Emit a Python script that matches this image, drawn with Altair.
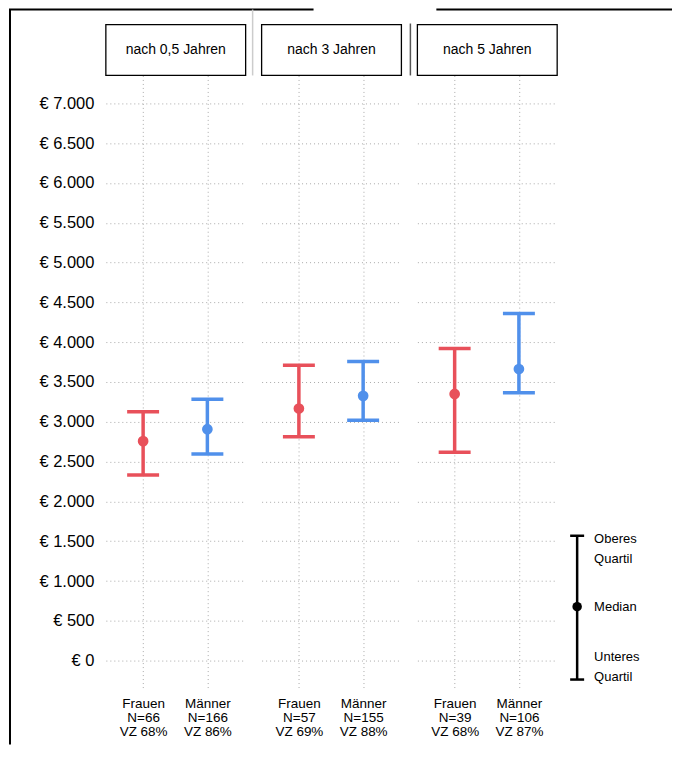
import altair as alt
import pandas as pd

periods = ["nach 0,5 Jahren", "nach 3 Jahren", "nach 5 Jahren"]
groups = ["Frauen", "Männer"]
n_values = [66, 166, 57, 155, 39, 106]
vz_values = [68, 86, 69, 88, 68, 87]
q1_values = [2332, 2595, 2812, 3020, 2619, 3366]
median_values = [2757, 2907, 3167, 3326, 3350, 3663]
q3_values = [3125, 3283, 3709, 3756, 3921, 4360]
y_ticks = list(range(0, 7001, 500))
colors = ["#E8505A", "#5090EB"]

rows = []
i = 0
for p in periods:
    for g in groups:
        rows.append({
            "period": p,
            "group": g,
            "label": f"{g}\nN={n_values[i]}\nVZ {vz_values[i]}%",
            "q1": q1_values[i],
            "median": median_values[i],
            "q3": q3_values[i],
        })
        i += 1
df = pd.DataFrame(rows)

FONT = "Liberation Sans"
W, H = 139, 614
ydom = [-350, 7350]


def panel(idx):
    p = periods[idx]
    d = df[df["period"] == p]
    first = idx == 0
    xenc = alt.X(
        "label:N",
        sort=list(d["label"]),
        scale=alt.Scale(type="point", padding=0.58),
        axis=alt.Axis(
            title=None, domain=False, ticks=False,
            labelExpr="split(datum.label, '\\n')",
            labelLineHeight=14, labelFontSize=13.5, labelFont=FONT,
            labelColor="#000", labelPadding=8, labelAngle=0,
            grid=True, gridDash=[1, 3], gridColor="#aaaaaa",
        ),
    )
    if first:
        yaxis = alt.Axis(
            title=None, domain=False, ticks=False, values=y_ticks,
            labelExpr="'€ ' + replace(format(datum.value, ',d'), ',', '.')",
            labelFontSize=16.5, labelFont=FONT, labelColor="#000",
            labelPadding=12, grid=True, gridDash=[1, 3], gridColor="#aaaaaa",
        )
    else:
        yaxis = alt.Axis(
            title=None, domain=False, ticks=False, labels=False, values=y_ticks,
            minExtent=0, maxExtent=0,
            grid=True, gridDash=[1, 3], gridColor="#aaaaaa",
        )
    ysc = alt.Scale(domain=ydom, nice=False, zero=False)
    color = alt.Color("group:N", scale=alt.Scale(domain=groups, range=colors), legend=None)
    base = alt.Chart(d)
    rule = base.mark_rule(strokeWidth=3.5).encode(
        x=xenc, y=alt.Y("q1:Q", scale=ysc, axis=yaxis), y2="q3:Q", color=color)
    tlo = base.mark_tick(size=32, thickness=3.5, opacity=1).encode(
        x=alt.X("label:N", sort=list(d["label"])), y="q1:Q", color=color)
    thi = base.mark_tick(size=32, thickness=3.5, opacity=1).encode(
        x=alt.X("label:N", sort=list(d["label"])), y="q3:Q", color=color)
    pt = base.mark_point(filled=True, size=115, opacity=1).encode(
        x=alt.X("label:N", sort=list(d["label"])), y="median:Q", color=color)

    hdr = pd.DataFrame({"title": [p]})
    box = alt.Chart(hdr).mark_rect(fill="white", stroke="black", strokeWidth=1.3).encode(
        x=alt.value(0), x2=alt.value(140), y=alt.value(-51), y2=alt.value(0))
    txt = alt.Chart(hdr).mark_text(font=FONT, fontSize=14, color="#000",
                                   align="center", baseline="middle").encode(
        x=alt.value(70), y=alt.value(-25), text="title:N")
    layers = [rule, tlo, thi, pt, box, txt]
    if first:
        deco = pd.DataFrame({"k": [1]})
        layers += [
            alt.Chart(deco).mark_rule(color="black", strokeWidth=2).encode(
                x=alt.value(-96), y=alt.value(-66), y2=alt.value(670)),
            alt.Chart(deco).mark_rule(color="black", strokeWidth=2).encode(
                x=alt.value(-97), x2=alt.value(208), y=alt.value(-66)),
            alt.Chart(deco).mark_rule(color="black", strokeWidth=2).encode(
                x=alt.value(331), x2=alt.value(567), y=alt.value(-66)),
            alt.Chart(deco).mark_rule(color="#cccccc", strokeWidth=1.5).encode(
                x=alt.value(147), y=alt.value(-66), y2=alt.value(0)),
            alt.Chart(deco).mark_rule(color="#555555", strokeWidth=1.5).encode(
                x=alt.value(305), y=alt.value(-52), y2=alt.value(0)),
        ]
    return alt.layer(*layers).properties(width=W, height=H)


leg = pd.DataFrame({"k": [1]})
lb = alt.Chart(leg)
legend = alt.layer(
    lb.mark_rule(color="black", strokeWidth=2.5).encode(
        x=alt.value(4), y=alt.value(461), y2=alt.value(605)),
    lb.mark_rule(color="black", strokeWidth=2.5).encode(
        x=alt.value(-3), x2=alt.value(11), y=alt.value(461)),
    lb.mark_rule(color="black", strokeWidth=2.5).encode(
        x=alt.value(-3), x2=alt.value(11), y=alt.value(605)),
    lb.mark_point(filled=True, size=90, color="black", opacity=1).encode(
        x=alt.value(4), y=alt.value(532)),
    lb.mark_text(font=FONT, fontSize=13, align="left", baseline="middle",
                 lineHeight=20, color="#000").encode(
        x=alt.value(21), y=alt.value(464), text=alt.value(["Oberes", "Quartil"])),
    lb.mark_text(font=FONT, fontSize=13, align="left", baseline="middle",
                 color="#000").encode(
        x=alt.value(21), y=alt.value(532), text=alt.value("Median")),
    lb.mark_text(font=FONT, fontSize=13, align="left", baseline="middle",
                 lineHeight=20, color="#000").encode(
        x=alt.value(21), y=alt.value(582), text=alt.value(["Unteres", "Quartil"])),
).properties(width=80, height=H)

chart = alt.hconcat(panel(0), panel(1), panel(2), legend, spacing=17, bounds="flush").properties(
    padding=0, background="white"
).configure_view(stroke=None)

chart.save("out.html", embed_options={"renderer": "svg", "actions": False})
